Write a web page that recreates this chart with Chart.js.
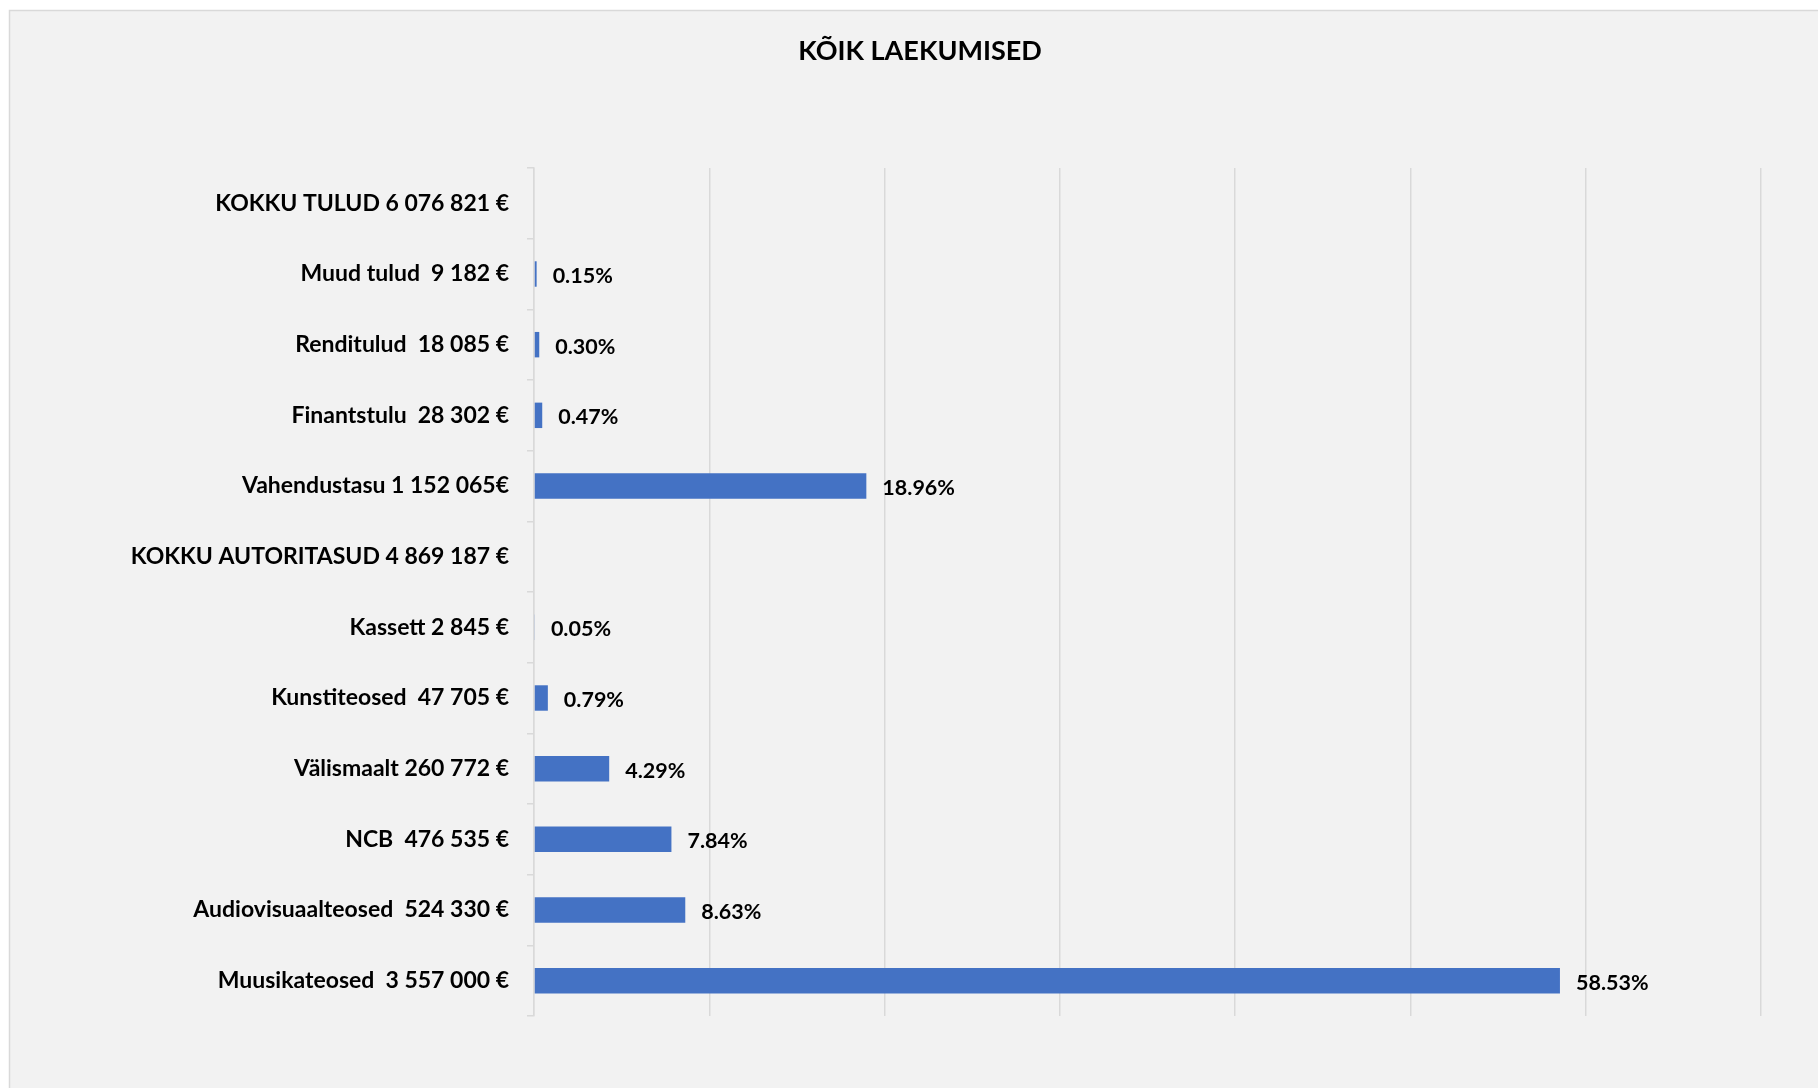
<!DOCTYPE html>
<html>
<head>
<meta charset="utf-8">
<script src="https://cdn.jsdelivr.net/npm/chart.js@4/dist/chart.umd.min.js"></script>
<style>
  html, body { margin: 0; padding: 0; background: #fff; }
  #wrap { width: 1818px; height: 1088px; }
</style>
</head>
<body>
<div id="wrap"><canvas id="graafik"></canvas></div>
<script>
// ===== ANDMED =====
const kategooriad = [
  "KOKKU TULUD 6 076 821 €",
  "Muud tulud  9 182 €",
  "Renditulud  18 085 €",
  "Finantstulu  28 302 €",
  "Vahendustasu 1 152 065€",
  "KOKKU AUTORITASUD 4 869 187 €",
  "Kassett 2 845 €",
  "Kunstiteosed  47 705 €",
  "Välismaalt 260 772 €",
  "NCB  476 535 €",
  "Audiovisuaalteosed  524 330 €",
  "Muusikateosed  3 557 000 €"
];
const osakaal = [null, 0.15, 0.30, 0.47, 18.96, null, 0.05, 0.79, 4.29, 7.84, 8.63, 58.53];
const pealkiri = "KÕIK LAEKUMISED";
const xMax = 70;
const xSamm = 10;

const FONT = "Lato, 'Open Sans', sans-serif";

// taust + raam + pealkiri
const taust = {
  id: "taust",
  beforeDraw(chart) {
    const { ctx, width, height } = chart;
    ctx.save();
    ctx.fillStyle = "#ffffff";
    ctx.fillRect(0, 0, width, height);
    ctx.fillStyle = "#f2f2f2";
    ctx.fillRect(10, 11, width, height);
    ctx.strokeStyle = "#d9d9d9";
    ctx.lineWidth = 1.5;
    ctx.beginPath();
    ctx.moveTo(9.5, height);
    ctx.lineTo(9.5, 10.5);
    ctx.lineTo(width, 10.5);
    ctx.stroke();
    ctx.fillStyle = "#000";
    ctx.font = "bold 27px " + FONT;
    ctx.textAlign = "center";
    ctx.textBaseline = "middle";
    ctx.fillText(pealkiri, 920, 51);
    ctx.restore();
  }
};

// protsendid tulpade järel
const sildid = {
  id: "sildid",
  afterDatasetsDraw(chart) {
    const { ctx } = chart;
    const meta = chart.getDatasetMeta(0);
    ctx.save();
    ctx.fillStyle = "#000";
    ctx.font = "bold 21.5px " + FONT;
    ctx.textAlign = "left";
    ctx.textBaseline = "middle";
    meta.data.forEach((bar, i) => {
      const v = osakaal[i];
      if (v == null) return;
      ctx.fillText(v.toFixed(2) + "%", bar.x + 16, bar.y + 2);
    });
    ctx.restore();
  }
};

new Chart(document.getElementById("graafik"), {
  type: "bar",
  data: {
    labels: kategooriad,
    datasets: [{
      data: osakaal,
      backgroundColor: "#4472c4",
      borderWidth: 0,
      categoryPercentage: 1,
      barPercentage: 0.36
    }]
  },
  options: {
    indexAxis: "y",
    responsive: true,
    maintainAspectRatio: false,
    animation: false,
    layout: { padding: { left: 0, top: 168, right: 57, bottom: 72 } },
    plugins: {
      legend: { display: false },
      title: { display: false },
      tooltip: { enabled: false }
    },
    scales: {
      x: {
        min: 0,
        max: xMax,
        ticks: { display: false, stepSize: xSamm },
        grid: { color: "#d9d9d9", lineWidth: 1.5, drawTicks: false },
        border: { display: false }
      },
      y: {
        afterFit: s => { s.width = 534; },
        ticks: {
          color: "#000",
          padding: 18,
          font: { family: FONT, size: 23, weight: "bold" }
        },
        grid: { drawOnChartArea: false, color: "#d9d9d9", tickLength: 7, lineWidth: 1.5 },
        border: { display: true, color: "#d9d9d9", width: 1.5 }
      }
    }
  },
  plugins: [taust, sildid]
});
</script>
</body>
</html>
